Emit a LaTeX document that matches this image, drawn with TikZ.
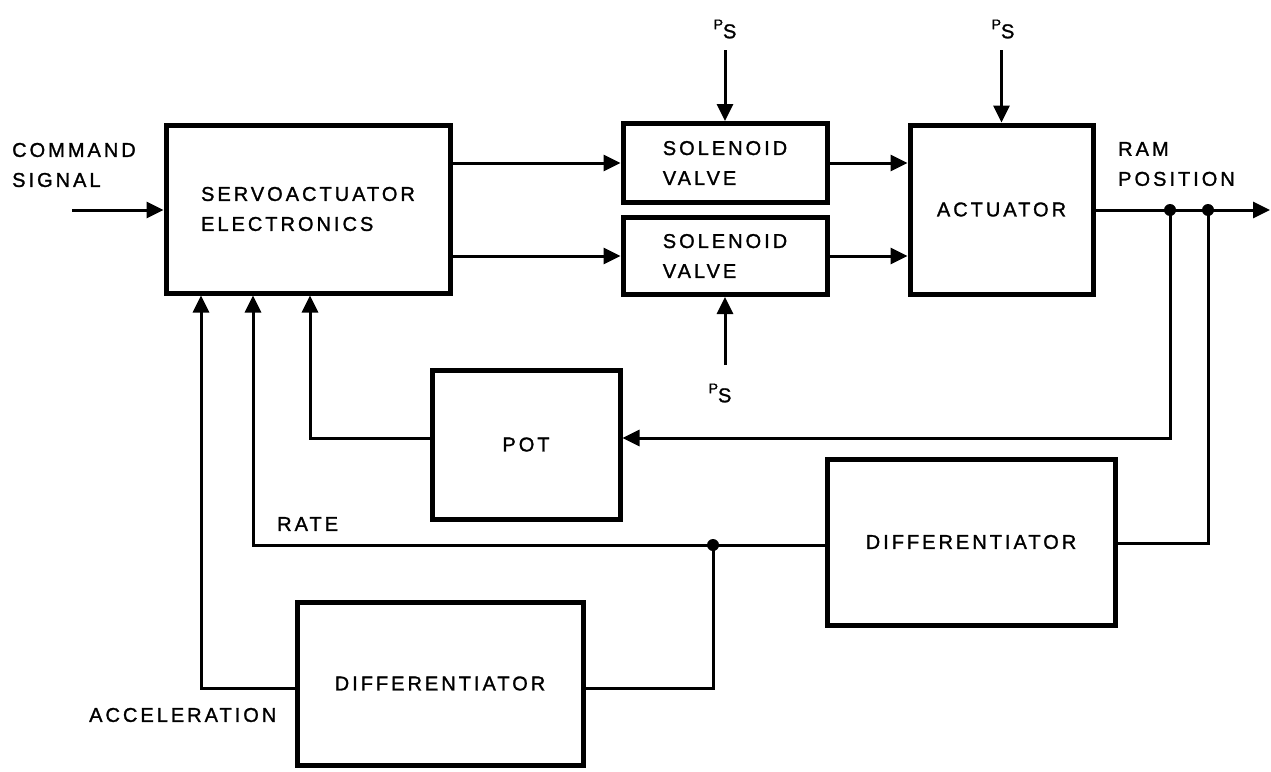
\documentclass[tikz,border=0pt]{standalone}
\usepackage{fontspec}
\newfontfamily\lab[LetterSpace=15,FakeBold=1.3]{Liberation Sans}
\usetikzlibrary{arrows.meta,calc}
\begin{document}
\begin{tikzpicture}[x=1pt,y=-1pt,
  txt/.style={font=\lab\fontsize{20}{30}\selectfont,align=left,inner sep=0pt},
  blk/.style={txt,draw,line width=5pt},
  wire/.style={line width=3pt},
  arr/.style={wire,-{Triangle[length=17pt,width=16pt]}},
  jdot/.style={circle,fill,inner sep=0pt,minimum size=12pt},
  pslbl/.style={inner sep=0pt}]
\useasboundingbox (0,0) rectangle (1271,771);
% blocks
\node[blk,minimum width=284pt,minimum height=168pt] (servo) at (308,209) {SERVOACTUATOR\\ELECTRONICS};
\node[blk,minimum width=204pt,minimum height=79pt] (valve1) at (725,163) {SOLENOID\\VALVE};
\node[blk,minimum width=204pt,minimum height=77pt] (valve2) at (725,256) {SOLENOID\\VALVE};
\node[blk,minimum width=183pt,minimum height=169pt] (act) at (1001.5,209.5) {ACTUATOR};
\node[blk,minimum width=188pt,minimum height=149pt] (pot) at (526,444.5) {POT};
\node[blk,minimum width=288pt,minimum height=166pt] (diffr) at (971,542) {DIFFERENTIATOR};
\node[blk,minimum width=286pt,minimum height=163pt] (diffb) at (440,683.5) {DIFFERENTIATOR};
% labels
\node[txt,anchor=west] (cmd) at (12,165) {COMMAND\\SIGNAL};
\node[txt,anchor=west] (ram) at (1118,164) {RAM\\POSITION};
\node[txt,anchor=west] (rate) at (277,524) {RATE};
\node[txt,anchor=west] (accel) at (89,715) {ACCELERATION};
\node[pslbl] (ps1) at (725,29) {\lab\fontsize{14}{14}\selectfont P\raisebox{-9pt}{\fontsize{20}{20}\selectfont S}};
\node[pslbl] (ps2) at (1003,29) {\lab\fontsize{14}{14}\selectfont P\raisebox{-9pt}{\fontsize{20}{20}\selectfont S}};
\node[pslbl] (ps3) at (720,393) {\lab\fontsize{14}{14}\selectfont P\raisebox{-9pt}{\fontsize{20}{20}\selectfont S}};
% coordinates
\coordinate (cmdstart) at (72,210);
\coordinate (ps1a) at (725,50);
\coordinate (ps2a) at (1001.5,50);
\coordinate (ps3a) at (725,365);
\coordinate (out) at (1270,210);
\node[jdot] (j1) at (1170,210) {};
\node[jdot] (j2) at (1208,210) {};
\node[jdot] (j3) at (713,545) {};
\coordinate (c1) at (1170,438);
\coordinate (c2) at (1208,543);
\coordinate (c3) at (253,545);
\coordinate (c4) at (713,688);
\coordinate (c5) at (201,688);
\coordinate (c6) at (310,438);
% forward path
\draw[arr] (cmdstart) -- (cmdstart -| servo.west);
\draw[arr] (servo.east |- valve1.west) -- (valve1.west);
\draw[arr] (servo.east |- valve2.west) -- (valve2.west);
\draw[arr] (valve1.east) -- (valve1.east -| act.west);
\draw[arr] (valve2.east) -- (valve2.east -| act.west);
\draw[arr] (ps1a) -- (valve1.north);
\draw[arr] (ps2a) -- (act.north);
\draw[arr] (ps3a) -- (valve2.south);
\draw[arr] (act.east |- out) -- (out);
% feedback
\draw[arr] (j1.center) -- (c1) -- (c1 -| pot.east);
\draw[wire] (j2.center) -- (c2) -- (c2 -| diffr.east);
\draw[arr] (diffr.west |- c3) -- (c3) -- (c3 |- servo.south);
\draw[wire] (j3.center) -- (c4) -- (c4 -| diffb.east);
\draw[arr] (diffb.west |- c5) -- (c5) -- (c5 |- servo.south);
\draw[arr] (pot.west |- c6) -- (c6) -- (c6 |- servo.south);
\end{tikzpicture}
\end{document}
